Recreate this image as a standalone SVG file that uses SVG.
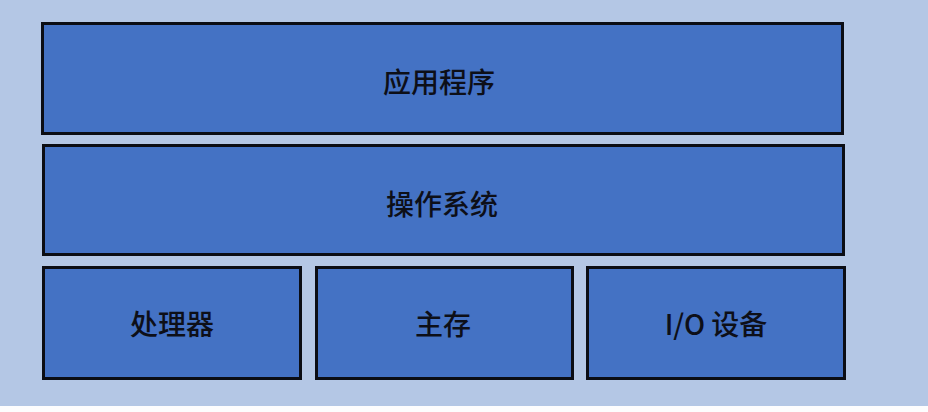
<svg xmlns="http://www.w3.org/2000/svg" width="928" height="412" viewBox="0 0 928 412">
<style>
.box{fill:#4472C4;stroke:#0b0d14;stroke-width:3}
.lbl{font-family:"Noto Sans CJK SC","Noto Sans",sans-serif;font-size:28px;font-weight:500;fill:#0d0f18;text-anchor:middle;dominant-baseline:central}
</style>
<rect x="0" y="0" width="928" height="412" fill="#FDFDFE"/>
<rect x="0" y="0" width="928" height="406" fill="#B4C7E5"/>
<g id="app"><rect class="box" x="42.5" y="23.5" width="800" height="110"/><text class="lbl" x="439" y="81">应用程序</text></g>
<g id="os"><rect class="box" x="43.5" y="145.5" width="800" height="109"/><text class="lbl" x="442" y="203">操作系统</text></g>
<g id="cpu"><rect class="box" x="43.5" y="267.5" width="257" height="111"/><text class="lbl" x="172" y="323">处理器</text></g>
<g id="mem"><rect class="box" x="316.5" y="267.5" width="256" height="111"/><text class="lbl" x="443" y="323">主存</text></g>
<g id="io"><rect class="box" x="587.5" y="267.5" width="257" height="111"/><text class="lbl" x="716" y="323">I/O 设备</text></g>
<g id="connectors"></g>
</svg>
